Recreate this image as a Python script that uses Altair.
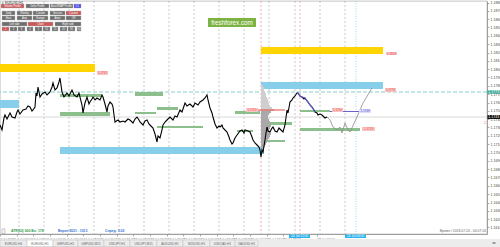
import json
import altair as alt
import pandas as pd

# ---------------- data ----------------
# H1 bar index and close price (EUR/USD)
bar = [0, 2, 4, 5, 7, 10, 12, 15, 17, 18,
       20, 23, 26, 28, 30, 32, 33, 35, 36, 37,
       38, 39, 40, 42, 45, 47, 50, 52, 53, 55,
       57, 59, 60, 61, 62, 64, 67, 69, 72, 74,
       77, 79, 82, 83, 85, 87, 89, 90, 92, 93,
       95, 97, 100, 102, 103, 105, 107, 108, 110, 112,
       113, 114, 115, 118, 120, 123, 125, 128, 130, 133,
       135, 137, 139, 140, 143, 145, 147, 149, 150, 153,
       155, 157, 158, 160, 162, 163, 165, 167, 170, 173,
       175, 177, 180, 182, 185, 187, 190, 193, 195, 198,
       200, 203, 205, 207, 208, 210, 212, 213, 215, 217,
       219, 220, 222, 223, 225, 227, 229, 230, 232, 233,
       235, 237, 240, 242, 244, 245, 248, 250, 252, 253,
       255, 257, 259, 260, 261, 262, 263, 264, 265, 266,
       267, 268, 270, 272, 273, 275, 277, 279, 280, 282,
       283, 285, 287, 288, 290, 292, 293, 295, 297, 298,
       300, 302, 304, 305, 307, 308, 310, 312, 314, 315,
       317, 318, 320, 322, 325, 327]
close = [1.1733, 1.1727, 1.17414, 1.1745, 1.17402, 1.17474, 1.17426, 1.17414, 1.17486, 1.1751,
         1.17462, 1.1751, 1.17522, 1.17558, 1.17546, 1.17498, 1.1751, 1.17546, 1.17714, 1.17678,
         1.17786, 1.17726, 1.17666, 1.17702, 1.17726, 1.1769, 1.17726, 1.17786, 1.17834, 1.1775,
         1.17774, 1.17846, 1.17894, 1.1781, 1.17726, 1.17666, 1.17714, 1.17678, 1.1775, 1.1769,
         1.17666, 1.17714, 1.1757, 1.17474, 1.17594, 1.17666, 1.17582, 1.17606, 1.17642, 1.17666,
         1.1763, 1.17654, 1.1763, 1.1769, 1.17666, 1.17582, 1.17486, 1.17558, 1.17606, 1.17582,
         1.17546, 1.1745, 1.17366, 1.1739, 1.17366, 1.17378, 1.17366, 1.17402, 1.1739, 1.17354,
         1.17402, 1.17426, 1.1739, 1.17366, 1.1733, 1.17378, 1.1739, 1.17342, 1.1733, 1.17294,
         1.17222, 1.17126, 1.17198, 1.17174, 1.1727, 1.1733, 1.17366, 1.1739, 1.17426, 1.1739,
         1.17438, 1.17426, 1.1751, 1.17486, 1.17594, 1.17558, 1.17582, 1.17546, 1.17594, 1.1757,
         1.17606, 1.1763, 1.17654, 1.1769, 1.1763, 1.17534, 1.17474, 1.17426, 1.17342, 1.17294,
         1.17318, 1.17306, 1.1733, 1.17294, 1.1727, 1.17246, 1.17186, 1.1715, 1.17102, 1.17114,
         1.17174, 1.1721, 1.17258, 1.1727, 1.17234, 1.1727, 1.17258, 1.17246, 1.17186, 1.1715,
         1.17114, 1.1709, 1.17066, 1.1703, 1.16946, 1.1703, 1.17006, 1.17078, 1.1715, 1.17234,
         1.17306, 1.17258, 1.17246, 1.17294, 1.17306, 1.17258, 1.17246, 1.17294, 1.17282, 1.17258,
         1.17246, 1.1733, 1.1751, 1.17474, 1.17606, 1.1763, 1.17654, 1.17678, 1.17714, 1.17714,
         1.17678, 1.17666, 1.17642, 1.17654, 1.17618, 1.17606, 1.1757, 1.17546, 1.1751, 1.17486,
         1.17474, 1.1745, 1.17462, 1.1745, 1.17414, 1.17426]

# projected path (grey)
fc_bar = [327, 330, 333, 337, 340, 342, 345, 348, 350, 357, 363, 372]
fc_price = [1.17426, 1.1739, 1.17306, 1.1727, 1.17306, 1.17234, 1.17354, 1.1727, 1.17246, 1.17426, 1.17594, 1.17774]

# highlighted swing (purple)
hl_bar = [297, 298, 300, 302, 305, 308, 310, 312, 315]
hl_price = [1.17714, 1.17714, 1.17678, 1.17666, 1.17654, 1.17606, 1.1757, 1.17546, 1.17486]

# zones
zone_x0 = [0, 261, 261, 0, 60, 60, 60, 135, 135, 157, 157, 235, 237, 263, 265, 300, 300]
zone_x1 = [95, 383, 383, 19, 264, 102, 110, 163, 156, 178, 203, 260, 253, 292, 285, 330, 360]
zone_top = [1.18062, 1.18266, 1.17846, 1.1763, 1.17066, 1.17702, 1.17486, 1.17726, 1.17486, 1.17546,
            1.17318, 1.17498, 1.1727, 1.17366, 1.1715, 1.1751, 1.17294]
zone_bot = [1.17966, 1.18182, 1.17762, 1.17534, 1.16982, 1.17666, 1.17438, 1.17678, 1.17462, 1.1751,
            1.17294, 1.17462, 1.17246, 1.1733, 1.17126, 1.17486, 1.17258]
zone_kind = ["yellow", "yellow", "blue", "blue", "blue"] + ["green"] * 12

# volume profile
prof_price = [1.17798, 1.17774, 1.1775, 1.17726, 1.17702, 1.17678, 1.17654, 1.1763, 1.17606, 1.17582,
              1.17558, 1.17534, 1.1751, 1.17486, 1.17462, 1.17438, 1.17414, 1.1739, 1.17366, 1.17342,
              1.17318, 1.17294, 1.1727, 1.17246, 1.17222, 1.17198, 1.17174, 1.1715, 1.17126, 1.17102,
              1.17078, 1.17054]
prof_end = [263, 264, 264, 265, 266, 266, 267, 268, 268, 269, 270, 272, 274, 271, 269, 268,
            268, 269, 270, 270, 271, 270, 269, 270, 271, 270, 269, 268, 267, 266, 265, 263]

# price tags
lab_x0 = [97, 386, 385, 246, 332, 359, 362]
lab_x1 = [108, 397, 396, 258, 343, 371, 375]
lab_top = [1.17978, 1.18206, 1.17774, 1.17534, 1.17534, 1.17522, 1.17306]
lab_bot = [1.1793, 1.1817, 1.17726, 1.17486, 1.17486, 1.17474, 1.17258]
lab_text = ["1.1797", "1.1818", "1.1776", "1.1751", "1.1750", "1.1749", "1.1729"]
lab_kind = ["red", "red", "red", "red", "red", "purple", "red"]

# axes
price_ticks = [1.1610, 1.1620, 1.1630, 1.1640, 1.1650, 1.1660, 1.1670, 1.1680, 1.1690, 1.1700,
               1.1710, 1.1720, 1.1730, 1.1740, 1.1750, 1.1760, 1.1770, 1.1780, 1.1790, 1.1800,
               1.1810, 1.1820, 1.1830, 1.1840, 1.1850, 1.1860, 1.1870, 1.1880]
tick_bars = [0, 17, 33, 50, 67, 83, 100, 117, 133, 150, 167, 183, 200, 217, 233, 250, 267, 283, 317]
tick_labels = ["5 Jul 2018", "5 Jul 16:00", "6 Jul 08:00", "9 Jul 00:00", "9 Jul 16:00",
               "10 Jul 08:00", "11 Jul 00:00", "11 Jul 16:00", "12 Jul 08:00", "13 Jul 00:00",
               "13 Jul 16:00", "16 Jul 08:00", "17 Jul 00:00", "17 Jul 16:00", "18 Jul 08:00",
               "19 Jul 00:00", "19 Jul 16:00", "20 Jul 08:00", "23 Jul 16:00"]
day_bars = [19, 44, 69, 94, 119, 144, 169, 194, 219, 244, 269, 295, 320, 345]
red_marks = [261, 300]
blue_marks = [356]
level_teal = 1.17726
level_now = 1.17426

# on-chart panel (buttons)
row_top = [1.18782, 1.18698, 1.18638, 1.18566, 1.18506]
row_bot = [1.18734, 1.1865, 1.1859, 1.18518, 1.18458]
btn_row = [0, 0, 0, 0, 1, 1, 1, 1, 1, 2, 2, 2, 2, 2, 3, 3, 3, 4, 4, 4, 4, 4, 4, 4, 4, 4, 4]
btn_x0 = [1, 26, 50, 74, 2, 17, 33, 50, 66, 2, 17, 33, 50, 66, 2, 28, 55, 2, 10, 18, 27, 35, 43, 52, 60, 68, 77]
btn_x1 = [24, 49, 73, 81, 15, 32, 48, 65, 81, 15, 32, 48, 65, 81, 27, 53, 81, 9, 17, 25, 33, 42, 50, 58, 67, 75, 81]
btn_text = ["Volume Profile", "Delta Profile", "AutoVWAP Profile", "0.1",
            "Daily", "Weekly", "Custom", "Session", "Custom",
            "Hour", "Asia", "Europe", "Amer", "Off",
            "Left side", "Chart", "Right side",
            "1", "2", "3", "4", "5", "10", "15", "20", "30", "50"]
btn_kind = ["red", "gray", "gray", "blue", "gray", "gray", "gray", "gray", "red",
            "gray", "gray", "gray", "gray", "gray", "gray", "red", "gray",
            "red", "gray", "gray", "gray", "gray", "gray", "gray", "gray", "gray", "gray"]

tab_x0 = [0, 27, 53, 78, 104, 130, 157, 183, 210, 235]
tab_x1 = [27, 53, 78, 104, 130, 157, 183, 210, 235, 258]
tab_text = ["EURUSD,H4", "EURUSD,H1", "GBPUSD,H1", "GBPUSD,M15", "USDJPY,H1",
            "USDJPY,M15", "AUDUSD,H1", "NZDUSD,H1", "USDCAD,H1", "XAUUSD,H1"]

# ---------------- scales / helpers ----------------
FONT = "Liberation Sans"
xs = alt.Scale(domain=[0, 487], nice=False, zero=False)
ys = alt.Scale(domain=[1.16022, 1.18818], nice=False, zero=False)
label_expr = "%s[indexof(%s, datum.value)]" % (json.dumps(tick_labels), json.dumps(tick_bars))
x_axis = alt.Axis(values=tick_bars, labelExpr=label_expr, labelFontSize=3.2, labelFont=FONT,
                  labelAlign="left", labelPadding=1, tickSize=2, tickWidth=0.6, tickColor="#777",
                  domainColor="#777", domainWidth=0.6, labelColor="#555", labelOverlap=False,
                  labelFlush=False, labelBound=False, grid=False, title=None)
y_axis = alt.Axis(orient="right", values=price_ticks, format=".4f", labelFontSize=3.6, labelFont=FONT,
                  labelPadding=1, tickSize=2, tickWidth=0.6, tickColor="#777", domainColor="#777",
                  domainWidth=0.6, labelColor="#444", labelOverlap=False, labelFlush=False,
                  labelBound=False, grid=False, title=None)


def X(f):
    return alt.X(f, type="quantitative", scale=xs, axis=x_axis)


def Y(f):
    return alt.Y(f, type="quantitative", scale=ys, axis=y_axis)


NOC = alt.Color("col:N", scale=None)

layers = []

# vertical separators
layers.append(alt.Chart(pd.DataFrame({"bar": day_bars})).mark_rule(
    color="#a5a5a5", strokeDash=[2, 2], strokeWidth=0.6).encode(x=X("bar")))
layers.append(alt.Chart(pd.DataFrame({"bar": red_marks})).mark_rule(
    color="#f28b8b", strokeDash=[2, 2], strokeWidth=0.7).encode(x=X("bar")))
layers.append(alt.Chart(pd.DataFrame({"bar": blue_marks})).mark_rule(
    color="#8fd3f0", strokeDash=[1, 1.5], strokeWidth=0.8).encode(x=X("bar")))

# horizontal levels
layers.append(alt.Chart(pd.DataFrame({"p": [level_now]})).mark_rule(
    color="#cfcfcf", strokeWidth=0.8).encode(y=Y("p")))
layers.append(alt.Chart(pd.DataFrame({"p": [level_teal]})).mark_rule(
    color="#6cc3bb", strokeDash=[4, 2], strokeWidth=0.8).encode(y=Y("p")))

# zones
zcol = {"yellow": "#ffd400", "blue": "#87ceeb", "green": "#8cbf8c"}
zdf = pd.DataFrame({"x0": zone_x0, "x1": zone_x1, "top": zone_top, "bot": zone_bot,
                    "col": [zcol[k] for k in zone_kind]})
layers.append(alt.Chart(zdf).mark_rect().encode(
    x=X("x0"), x2=alt.X2("x1"), y=Y("top"), y2=alt.Y2("bot"), color=NOC))

# volume profile
pdf = pd.DataFrame({"p": prof_price, "x1": prof_end, "x0": [261] * len(prof_end),
                    "col": ["#cfcfcf"] * 13 + ["#a9a9a9"] * (len(prof_end) - 13)})
layers.append(alt.Chart(pdf).mark_rule(strokeWidth=2).encode(
    x=X("x0"), x2=alt.X2("x1"), y=Y("p"), color=NOC))

# POC and purple level
seg = pd.DataFrame({"x0": [258, 330], "x1": [285, 360], "p": [1.1751, 1.17492],
                    "col": ["#e8322f", "#5a50c8"]})
layers.append(alt.Chart(seg).mark_rule(strokeWidth=0.9).encode(
    x=X("x0"), x2=alt.X2("x1"), y=Y("p"), color=NOC))

# price
layers.append(alt.Chart(pd.DataFrame({"bar": bar, "close": close})).mark_line(
    color="#000000", strokeWidth=1.1).encode(x=X("bar"), y=Y("close")))
layers.append(alt.Chart(pd.DataFrame({"bar": hl_bar, "close": hl_price})).mark_line(
    color="#5b5bd6", strokeWidth=1.1).encode(x=X("bar"), y=Y("close")))
layers.append(alt.Chart(pd.DataFrame({"bar": fc_bar, "close": fc_price})).mark_line(
    color="#8c8c8c", strokeWidth=0.8).encode(x=X("bar"), y=Y("close")))

# price tags
lcol = {"red": ("#fbc4c4", "#e8504c"), "purple": ("#dcdcff", "#5050c0")}
ldf = pd.DataFrame({"x0": lab_x0, "x1": lab_x1, "top": lab_top, "bot": lab_bot, "t": lab_text,
                    "col": [lcol[k][0] for k in lab_kind], "tc": [lcol[k][1] for k in lab_kind]})
lbase = alt.Chart(ldf).transform_calculate(xm="(datum.x0+datum.x1)/2", ym="(datum.top+datum.bot)/2")
layers.append(lbase.mark_rect().encode(x=X("x0"), x2=alt.X2("x1"), y=Y("top"), y2=alt.Y2("bot"), color=NOC))
layers.append(lbase.mark_text(fontSize=3, font=FONT, baseline="middle", align="center").encode(
    x=X("xm:Q"), y=Y("ym:Q"), text="t:N", color=alt.Color("tc:N", scale=None)))

# axis tags (teal / current price)
adf = pd.DataFrame({"x0": [487.5, 487.5], "x1": [500, 500], "top": [1.17747, 1.1745],
                    "bot": [1.17705, 1.17402], "t": ["1.1773", "1.1743"], "col": ["#3aa99a", "#111111"]})
abase = alt.Chart(adf).transform_calculate(xm="(datum.x0+datum.x1)/2", ym="(datum.top+datum.bot)/2")
layers.append(abase.mark_rect().encode(x=X("x0"), x2=alt.X2("x1"), y=Y("top"), y2=alt.Y2("bot"), color=NOC))
layers.append(abase.mark_text(fontSize=3.6, font=FONT, color="white", baseline="middle").encode(
    x=X("xm:Q"), y=Y("ym:Q"), text="t:N"))

# small marker near axis
layers.append(alt.Chart(pd.DataFrame({"b": [485], "p": [1.17354], "t": ["2"]})).mark_text(
    fontSize=4, font=FONT, color="#f08080").encode(x=X("b"), y=Y("p"), text="t:N"))

# panel buttons
bcol = {"red": "#c85a5a", "gray": "#6f6f6f", "blue": "#4b4be6"}
bdf = pd.DataFrame({"x0": btn_x0, "x1": btn_x1, "top": [row_top[r] for r in btn_row],
                    "bot": [row_bot[r] for r in btn_row], "t": btn_text,
                    "col": [bcol[k] for k in btn_kind]})
bbase = alt.Chart(bdf).transform_calculate(xm="(datum.x0+datum.x1)/2", ym="(datum.top+datum.bot)/2")
layers.append(bbase.mark_rect(stroke="#b8b8b8", strokeWidth=0.4).encode(
    x=X("x0"), x2=alt.X2("x1"), y=Y("top"), y2=alt.Y2("bot"), color=NOC))
layers.append(bbase.mark_text(fontSize=2.6, font=FONT, color="white", baseline="middle").encode(
    x=X("xm:Q"), y=Y("ym:Q"), text="t:N"))

# chart caption
layers.append(alt.Chart(pd.DataFrame({"b": [2], "p": [1.18795], "t": ["▾ EURUSD,H1"]})).mark_text(
    fontSize=3.2, font=FONT, color="#333", align="left", baseline="middle").encode(
    x=X("b"), y=Y("p"), text="t:N"))

# watermark
wdf = pd.DataFrame({"x0": [208], "x1": [256], "top": [1.18614], "bot": [1.18506],
                    "xm": [232], "ym": [1.1856], "t": ["freshforex.com"]})
layers.append(alt.Chart(wdf).mark_rect(color="#7cb342").encode(
    x=X("x0"), x2=alt.X2("x1"), y=Y("top"), y2=alt.Y2("bot")))
layers.append(alt.Chart(wdf).mark_text(fontSize=6.3, font=FONT, color="white", baseline="middle").encode(
    x=X("xm"), y=Y("ym"), text="t:N"))

# status texts
layers.append(alt.Chart(pd.DataFrame({"x0": [2], "x1": [5], "top": [1.16084], "bot": [1.16028]})).mark_rect(
    fill="#f4f4f4", stroke="#888", strokeWidth=0.4).encode(
    x=X("x0"), x2=alt.X2("x1"), y=Y("top"), y2=alt.Y2("bot")))
sdf = pd.DataFrame({"b": [11, 58, 105], "p": [1.16058] * 3,
                    "t": ["ATR(50) 000  Bu: 178", "Верхн 2021 : 1013", "Спред: 3.00"],
                    "col": ["#2e9a4a", "#2f6fd6", "#2f6fd6"]})
layers.append(alt.Chart(sdf).mark_text(fontSize=3.4, font=FONT, align="left", baseline="middle",
                                       fontWeight="bold").encode(
    x=X("b"), y=Y("p"), text="t:N", color=NOC))
layers.append(alt.Chart(pd.DataFrame({"b": [486], "p": [1.16058], "t": ["Время / 2018.07.24 - 00:07:24"]})).mark_text(
    fontSize=3.4, font=FONT, align="right", baseline="middle", color="#666").encode(
    x=X("b"), y=Y("p"), text="t:N"))

# time-axis highlights
hdf = pd.DataFrame({"x0": [289, 345], "x1": [310, 366], "top": [1.16016, 1.16016],
                    "bot": [1.15974, 1.15974], "t": ["20 Jul 12:00", "24 Jul 04:00"]})
hbase = alt.Chart(hdf).transform_calculate(xm="(datum.x0+datum.x1)/2", ym="(datum.top+datum.bot)/2")
layers.append(hbase.mark_rect(color="#2ab4f2").encode(x=X("x0"), x2=alt.X2("x1"), y=Y("top"), y2=alt.Y2("bot")))
layers.append(hbase.mark_text(fontSize=3.1, font=FONT, color="white", baseline="middle").encode(
    x=X("xm:Q"), y=Y("ym:Q"), text="t:N"))

# tab bar
layers.append(alt.Chart(pd.DataFrame({"x0": [-1], "x1": [501], "top": [1.15962], "bot": [1.1586]})).mark_rect(
    color="#ececec").encode(x=X("x0"), x2=alt.X2("x1"), y=Y("top"), y2=alt.Y2("bot")))
tdf = pd.DataFrame({"x0": tab_x0, "x1": tab_x1, "t": tab_text, "top": [1.1595] * 10, "bot": [1.15872] * 10,
                    "col": ["#ececec", "#ffffff"] + ["#ececec"] * 8})
tbase = alt.Chart(tdf).transform_calculate(xm="(datum.x0+datum.x1)/2", ym="(datum.top+datum.bot)/2")
layers.append(tbase.mark_rect(stroke="#b5b5b5", strokeWidth=0.4).encode(
    x=X("x0"), x2=alt.X2("x1"), y=Y("top"), y2=alt.Y2("bot"), color=NOC))
layers.append(tbase.mark_text(fontSize=3, font=FONT, color="#666", baseline="middle").encode(
    x=X("xm:Q"), y=Y("ym:Q"), text="t:N"))
layers.append(alt.Chart(pd.DataFrame({"b": [494], "p": [1.15911], "t": ["◂  ▸"]})).mark_text(
    fontSize=3.5, font=FONT, color="#777", baseline="middle").encode(x=X("b"), y=Y("p"), text="t:N"))

chart = alt.layer(*layers).properties(
    width=487, height=233,
    padding={"left": 0, "top": 1, "right": 13, "bottom": 13},
    autosize=alt.AutoSizeParams(type="none"),
    background="white",
).configure_view(stroke="#9a9a9a", strokeWidth=0.6).configure_axis(grid=False)

chart.save("out.html", embed_options={"renderer": "svg", "actions": False})
